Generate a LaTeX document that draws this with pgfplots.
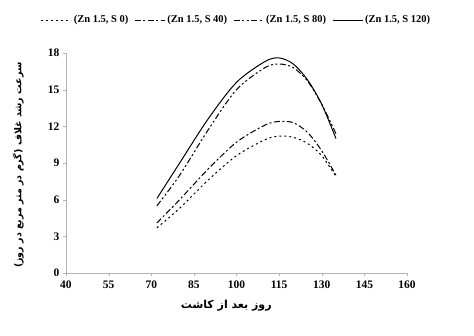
\documentclass[border=0pt]{standalone}
\usepackage{pgfplots}
\pgfplotsset{compat=1.18}
\usepackage{fontspec}
\setmainfont{Liberation Serif}
\newfontfamily\arabicfont[Script=Arabic]{DejaVu Sans}
\TeXXeTstate=1
\begin{document}
\begin{tikzpicture}
\path[use as bounding box] (0pt,0pt) rectangle (474pt,-335pt);
\begin{axis}[
  at={(66pt,-273pt)}, anchor=south west,
  scale only axis, width=341pt, height=220pt,
  xmin=40, xmax=160, ymin=0, ymax=18,
  xtick={40,55,...,160}, ytick={0,3,...,18},
  axis x line=bottom, axis y line=left,
  axis line style={-, draw=gray!60},
  tick style={draw=gray!60},
  tick align=outside, major tick length=3pt,
  /pgf/number format/assume math mode=true,
  ticklabel style={font=\bfseries\fontsize{11.5}{13}\selectfont},
  xticklabel style={yshift=-1pt},
  xlabel={\arabicfont\bfseries\fontsize{11}{13}\selectfont\beginR روز بعد از کاشت\endR},
  xlabel style={at={(axis description cs:0.47,-0.15)}, anchor=center},
  ylabel={\arabicfont\bfseries\fontsize{9.5}{11}\selectfont\beginR سرعت رشد غلاف (گرم در متر مربع در روز)\endR},
  ylabel style={at={(axis description cs:-0.14,0.49)}, anchor=center, rotate=0},
  legend columns=4,
  legend style={draw=none, fill=none, at={(0.5,1.15)}, anchor=center,
    font=\bfseries\fontsize{10.5}{12}\selectfont,
    /tikz/every even column/.append style={column sep=4pt}},
  legend image code/.code={\draw[#1] (0pt,0pt) -- (30pt,0pt);},
  every axis plot/.append style={black, line width=1pt, smooth},
]
\addplot[dash pattern=on 2pt off 3pt] coordinates {
(72,3.7) (80,5.3) (90,7.6) (100,9.6) (110,10.9) (115,11.2) (120,11.1) (125,10.6) (130,9.6) (135,7.9)};
\addlegendentry{(Zn 1.5, S 0)}
\addplot[dash pattern=on 6pt off 2.5pt on 2pt off 2.5pt] coordinates {
(72,4.1) (80,6.0) (90,8.5) (100,10.7) (110,12.1) (115,12.4) (120,12.3) (125,11.5) (130,10.0) (135,8.0)};
\addlegendentry{(Zn 1.5, S 40)}
\addplot[dash pattern=on 6pt off 2.5pt on 2pt off 2.5pt on 2pt off 2.5pt] coordinates {
(72,5.5) (80,8.0) (90,11.7) (100,15.0) (110,16.8) (115,17.1) (120,16.8) (125,15.7) (130,13.8) (135,11.4)};
\addlegendentry{(Zn 1.5, S 80)}
\addplot[solid] coordinates {
(72,6.1) (80,9.0) (90,12.6) (100,15.6) (110,17.3) (115,17.6) (120,17.1) (125,15.8) (130,13.8) (135,11.0)};
\addlegendentry{(Zn 1.5, S 120)}
\end{axis}
\end{tikzpicture}
\end{document}
